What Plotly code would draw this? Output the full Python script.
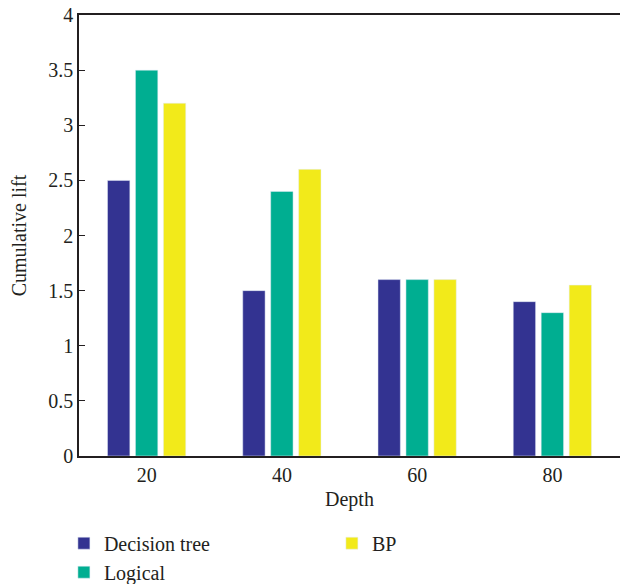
import plotly.graph_objects as go

categories = ["20", "40", "60", "80"]
decision_tree = [2.5, 1.5, 1.6, 1.4]
logical = [3.5, 2.4, 1.6, 1.3]
bp = [3.2, 2.6, 1.6, 1.55]
y_ticks = [0, 0.5, 1, 1.5, 2, 2.5, 3, 3.5, 4]
y_tick_text = ["0", "0.5", "1", "1.5", "2", "2.5", "3", "3.5", "4"]

FONT = "Liberation Serif"
FS = 20
fig = go.Figure()
fig.add_trace(go.Bar(x=categories, y=decision_tree, name="Decision tree",
                     marker_color="#333391", legendrank=1))
fig.add_trace(go.Bar(x=categories, y=logical, name="Logical",
                     marker_color="#00AE91", legendrank=3))
fig.add_trace(go.Bar(x=categories, y=bp, name="BP",
                     marker_color="#F2EA1A", legendrank=2))

fig.update_layout(
    width=628, height=584,
    margin=dict(l=71, r=16, t=7, b=136, autoexpand=False),
    paper_bgcolor="white", plot_bgcolor="white",
    barmode="group", bargap=0.38, bargroupgap=0.2,
    font=dict(family=FONT, size=FS, color="#231f20"),
    showlegend=True,
    legend=dict(orientation="h", xref="container", x=0.089, xanchor="left",
                yref="container", y=0.117, yanchor="top",
                entrywidth=223, entrywidthmode="pixels",
                font=dict(family=FONT, size=FS), tracegroupgap=0,
                itemwidth=30),
)
fig.update_xaxes(
    type="category", range=[-0.5, 3.5], automargin=False,
    showline=True, linecolor="#231f20", linewidth=1.5, mirror=True,
    ticks="", showgrid=False,
    title=dict(text="Depth", font=dict(family=FONT, size=FS), standoff=7),
)
fig.update_yaxes(
    range=[0, 4], tickvals=y_ticks, ticktext=y_tick_text, automargin=False,
    ticklabeloverflow="allow",
    showline=True, linecolor="#231f20", linewidth=1.5, mirror=True,
    ticks="inside", ticklen=6, tickcolor="#231f20", showgrid=False,
    zeroline=False,
    title=dict(text="Cumulative lift", font=dict(family=FONT, size=FS), standoff=17),
)

fig.write_html("out.html")
